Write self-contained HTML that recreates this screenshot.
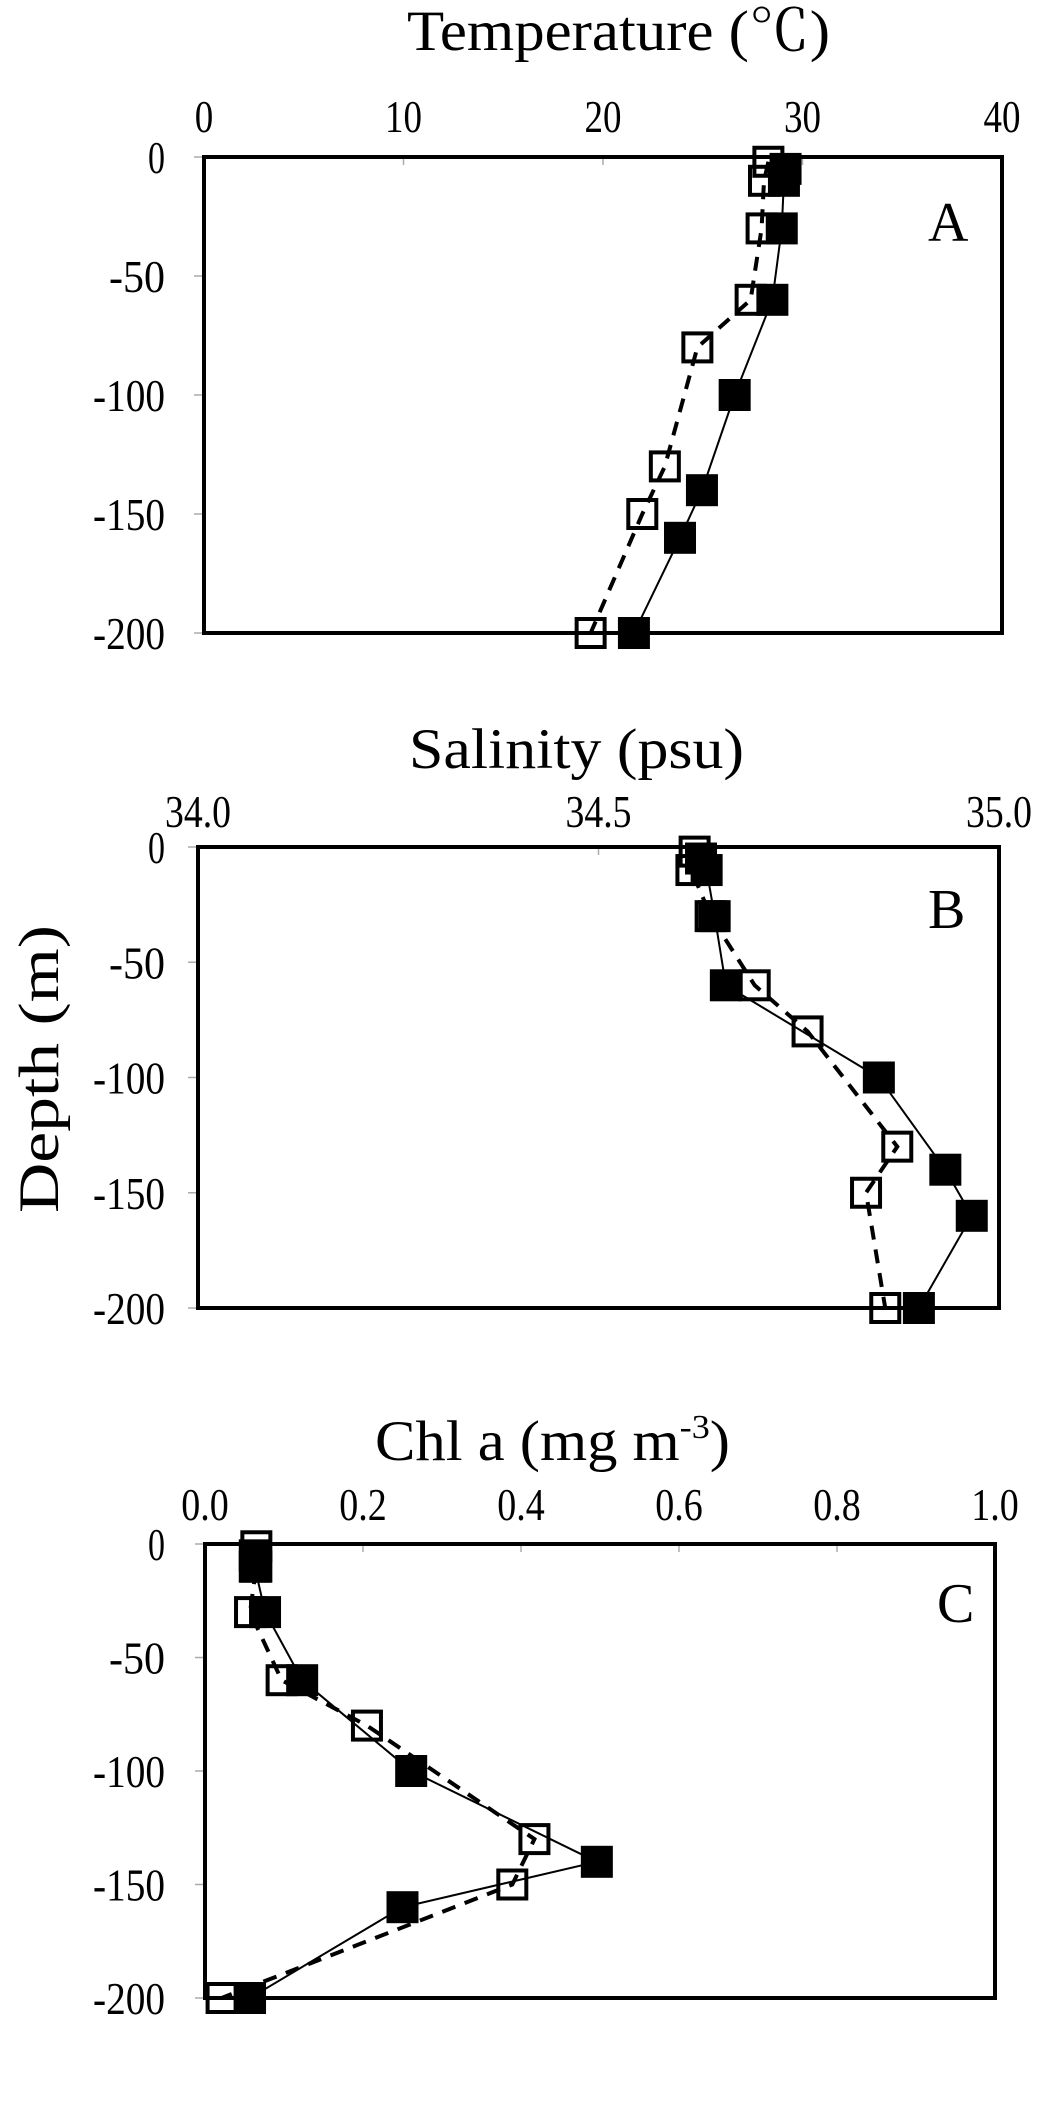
<!DOCTYPE html>
<html><head><meta charset="utf-8"><style>
html,body{margin:0;padding:0;background:#fff;}
svg{display:block;font-family:"Liberation Serif","Noto Serif CJK SC",serif;}
</style></head><body>
<svg id="chart" width="1063" height="2101" viewBox="0 0 1063 2101" xmlns="http://www.w3.org/2000/svg">
<text x="0" y="0" font-size="57" textLength="288" lengthAdjust="spacingAndGlyphs" transform="translate(58,1213) rotate(-90)">Depth (m)</text>
</svg>
<script>
// Shared depth arrays
const depthTicks = [0, -50, -100, -150, -200];
// Panel A: temperature
const tempTicks = [0, 10, 20, 30, 40];
const tempFilledDepth = [-5, -10, -30, -60, -100, -140, -160, -200];
const tempFilled = [29.15, 29.07, 28.96, 28.49, 26.6, 24.96, 23.86, 21.55];
const tempOpenDepth = [-2, -10, -30, -60, -80, -130, -150, -200];
const tempOpen = [28.29, 28.07, 27.95, 27.4, 24.73, 23.1, 21.97, 19.38];
// Panel B: salinity
const salTicks = [34.0, 34.5, 35.0];
const salTickLabels = ["34.0", "34.5", "35.0"];
const salFilledDepth = [-5, -10, -30, -60, -100, -140, -160, -200];
const salFilled = [34.628, 34.635, 34.645, 34.659, 34.85, 34.933, 34.966, 34.90];
const salOpenDepth = [-2, -10, -30, -60, -80, -130, -150, -200];
const salOpen = [34.620, 34.616, 34.64, 34.695, 34.761, 34.873, 34.834, 34.858];
// Panel C: chlorophyll a
const chlTicks = [0, 0.2, 0.4, 0.6, 0.8, 1.0];
const chlTickLabels = ["0.0", "0.2", "0.4", "0.6", "0.8", "1.0"];
const chlFilledDepth = [-5, -10, -30, -60, -100, -140, -160, -200];
const chlFilled = [0.063, 0.063, 0.076, 0.123, 0.261, 0.496, 0.25, 0.057];
const chlOpenDepth = [-1, -10, -30, -60, -80, -130, -150, -200];
const chlOpen = [0.065, 0.065, 0.057, 0.097, 0.205, 0.417, 0.389, 0.021];

const NS = "http://www.w3.org/2000/svg";
const svg = document.getElementById("chart");
function mk(tag, attrs, parent) {
  const e = document.createElementNS(NS, tag);
  for (const k in attrs) e.setAttribute(k, attrs[k]);
  (parent || svg).appendChild(e);
  return e;
}

function panel(cfg) {
  const g = mk("g", {});
  
  
  const sx = v => cfg.x0 + (v - cfg.xmin) / (cfg.xmax - cfg.xmin) * (cfg.x1 - cfg.x0);
  const sy = d => cfg.y0 + (0 - d) / 200 * (cfg.y1 - cfg.y0);
  const t = mk("text", {x: cfg.titleX, y: cfg.titleY, "font-size": 57, textLength: cfg.titleW, lengthAdjust: "spacingAndGlyphs"}, g);
  
  
  t.innerHTML = cfg.title;
  cfg.xticks.forEach((v, i) => {
    const lab = cfg.xlabels ? cfg.xlabels[i] : String(v);
    const w = lab.length * 18.5 - (lab.indexOf(".") >= 0 ? 8 : 0);
    const tx = mk("text", {x: sx(v), y: cfg.tickY, "font-size": 46, "text-anchor": "middle", textLength: w, lengthAdjust: "spacingAndGlyphs"}, g);
    
    
    tx.textContent = lab;
    const tk = mk("line", {x1: sx(v), x2: sx(v), y1: cfg.y0, y2: cfg.y0 + 8, stroke: "#aaa", "stroke-width": 1.5}, g);
    
    
  });
  depthTicks.forEach(d => {
    const lab = String(d);
    const w = lab === "0" ? 17 : (lab.length === 3 ? 56 : 72);
    const ty = mk("text", {x: 165, y: sy(d) + 16, "font-size": 46, "text-anchor": "end", textLength: w, lengthAdjust: "spacingAndGlyphs"}, g);
    
    
    ty.textContent = lab;
    const tk = mk("line", {x1: cfg.x0 - 10, x2: cfg.x0, y1: sy(d), y2: sy(d), stroke: "#aaa", "stroke-width": 1.5}, g);
    
    
  });
  const fr = mk("rect", {x: cfg.x0, y: cfg.y0, width: cfg.x1 - cfg.x0, height: cfg.y1 - cfg.y0, fill: "none", stroke: "#000", "stroke-width": 4}, g);
  
  
  const pl = mk("text", {x: cfg.letterX, y: cfg.letterY, "font-size": 56}, g);
  
  
  pl.textContent = cfg.letter;
  const ptsO = cfg.openV.map((v, i) => sx(v) + "," + sy(cfg.openD[i])).join(" ");
  const ptsF = cfg.filledV.map((v, i) => sx(v) + "," + sy(cfg.filledD[i])).join(" ");
  const lo = mk("polyline", {points: ptsO, fill: "none", stroke: "#000", "stroke-width": 4, "stroke-dasharray": "14 10"}, g);
  
  
  const lf = mk("polyline", {points: ptsF, fill: "none", stroke: "#000", "stroke-width": 2}, g);
  
  
  const S = 28;
  cfg.openV.forEach((v, i) => {
    const r = mk("rect", {x: sx(v) - S / 2, y: sy(cfg.openD[i]) - S / 2, width: S, height: S, fill: "none", stroke: "#000", "stroke-width": 4}, g);
    
    
  });
  cfg.filledV.forEach((v, i) => {
    const r = mk("rect", {x: sx(v) - S / 2 - 2, y: sy(cfg.filledD[i]) - S / 2 - 2, width: S + 4, height: S + 4, fill: "#000"}, g);
    
    
  });
}

panel({name: "panel-a-temperature", x0: 204, x1: 1002, xmin: 0, xmax: 40, y0: 157, y1: 633,
  title: "Temperature (℃)", titleX: 407, titleY: 50, titleW: 423, tickY: 132,
  xticks: tempTicks, letter: "A", letterX: 928, letterY: 241,
  filledV: tempFilled, filledD: tempFilledDepth, openV: tempOpen, openD: tempOpenDepth});
panel({name: "panel-b-salinity", x0: 198, x1: 999, xmin: 34.0, xmax: 35.0, y0: 847, y1: 1308,
  title: "Salinity (psu)", titleX: 409, titleY: 768, titleW: 335, tickY: 827,
  xticks: salTicks, xlabels: salTickLabels, letter: "B", letterX: 928, letterY: 928,
  filledV: salFilled, filledD: salFilledDepth, openV: salOpen, openD: salOpenDepth});
panel({name: "panel-c-chlorophyll", x0: 205, x1: 995, xmin: 0, xmax: 1.0, y0: 1544, y1: 1998,
  title: "Chl a (mg m<tspan font-size='34' dy='-22'>-3</tspan><tspan dy='22'>)</tspan>", titleX: 375, titleY: 1460, titleW: 355, tickY: 1520,
  xticks: chlTicks, xlabels: chlTickLabels, letter: "C", letterX: 937, letterY: 1622,
  filledV: chlFilled, filledD: chlFilledDepth, openV: chlOpen, openD: chlOpenDepth});
</script>
</body></html>
